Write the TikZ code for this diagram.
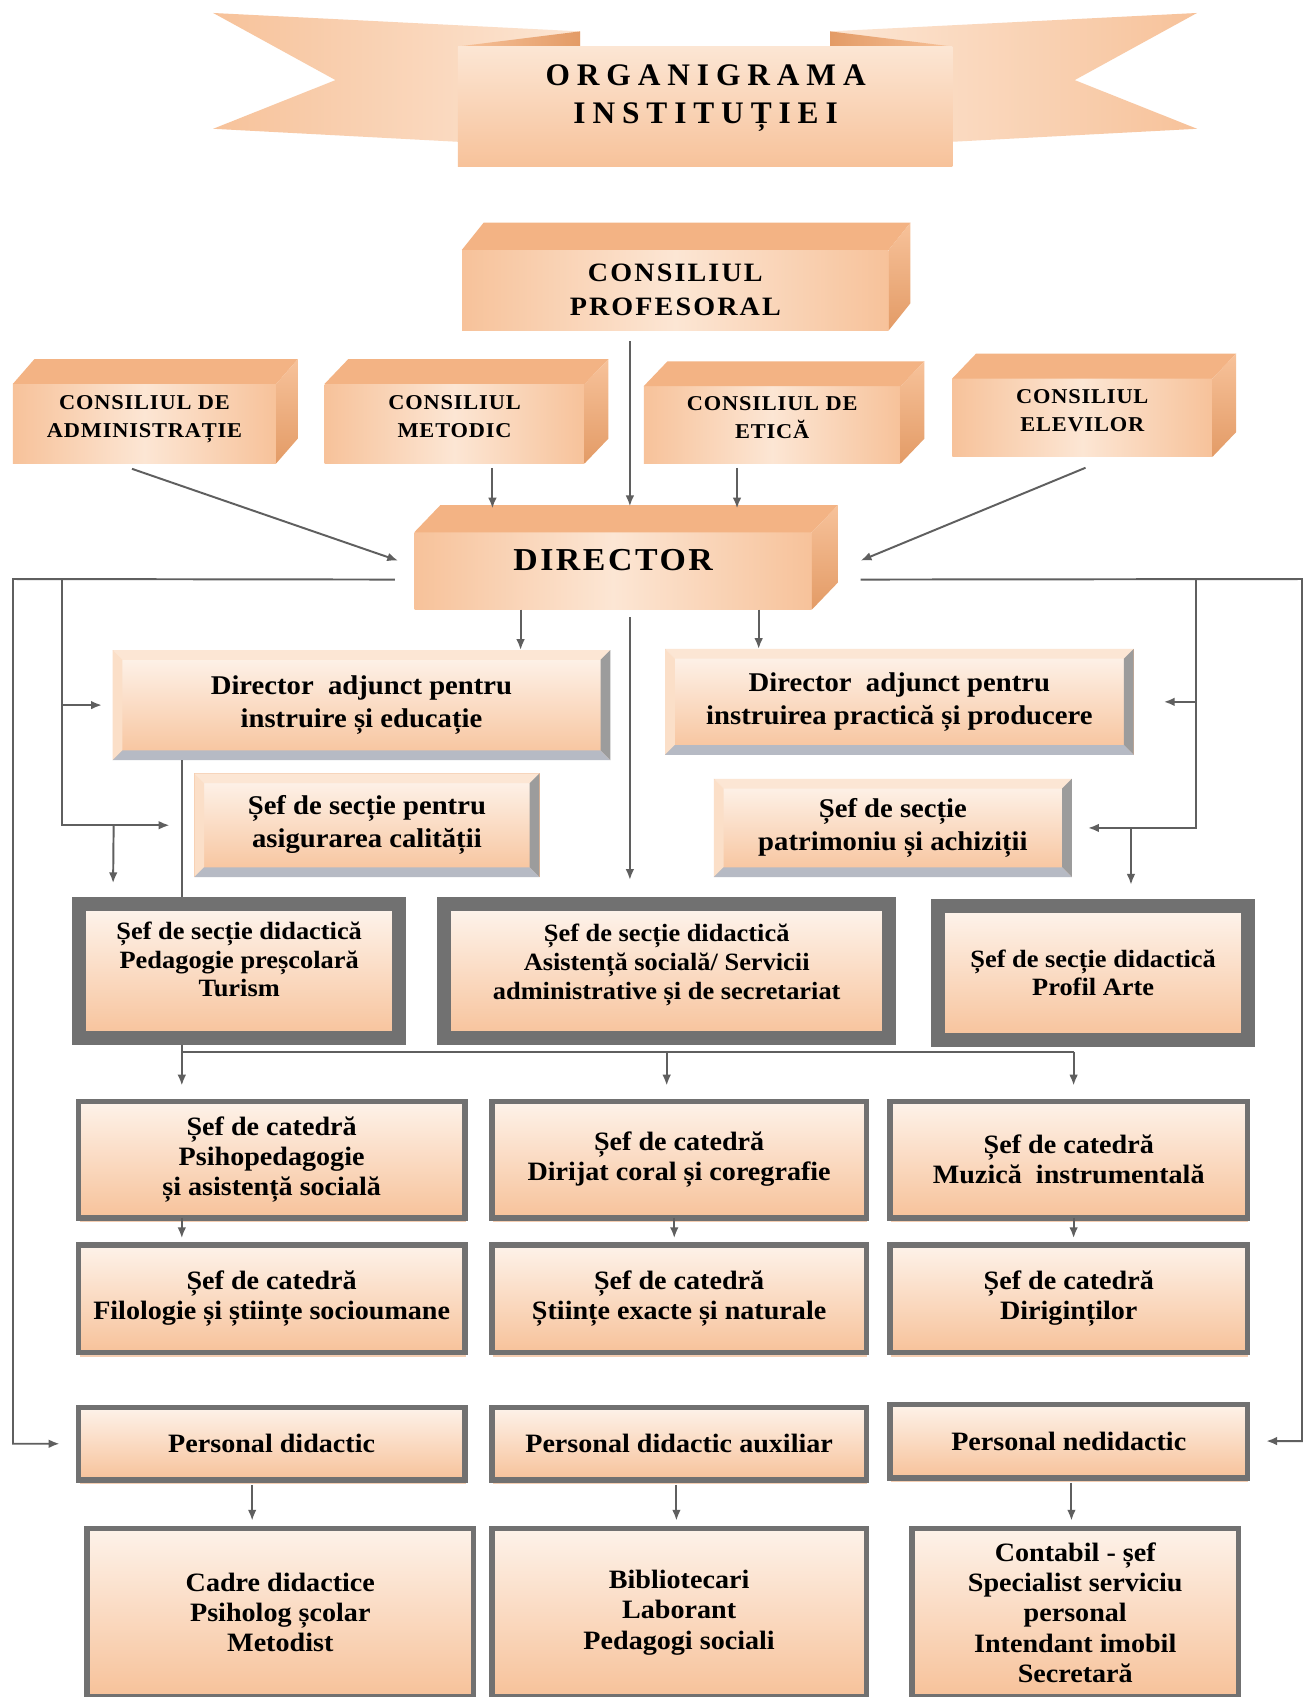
\documentclass[tikz,border=0pt]{standalone}
\usepackage{fontspec}
\setmainfont{Liberation Serif}[FakeStretch=1.06]
\newfontfamily\titlufont[LetterSpace=22]{Liberation Serif}
\newfontfamily\consfont[LetterSpace=8,FakeStretch=1.06]{Liberation Serif}
\newfontfamily\mijfont[LetterSpace=4,FakeStretch=1.06]{Liberation Serif}
\usetikzlibrary{arrows.meta}
\usetikzlibrary{shadows}

\definecolor{piersica}{HTML}{F7C29A}
\definecolor{piersicadeschis}{HTML}{FCE6D4}
\definecolor{piersicasus}{HTML}{F3B384}
\definecolor{piersicalat}{HTML}{E39B66}
\definecolor{piersicaumbra}{HTML}{F0B890}
\definecolor{ramagri}{HTML}{717171}
\definecolor{liniegri}{HTML}{5F5F5F}
\definecolor{bevelgri}{HTML}{9C9C9C}
\definecolor{bevelalb}{HTML}{B6BAC4}

\begin{document}
\begin{tikzpicture}[x=1pt,y=-1pt,
    cub/.style={rectangle,inner sep=0pt,align=center,left color=piersica,right color=piersica,middle color=piersicadeschis},
    placa/.style={rectangle,inner sep=0pt,align=center,draw=piersicaumbra,line width=0.8pt,top color=piersicadeschis!40!white,bottom color=piersica,
        font=\bfseries\fontsize{25}{30.5}\selectfont},
    sectie/.style={rectangle,inner sep=0pt,align=center,draw=ramagri,line width=13pt,top color=piersicadeschis!40!white,bottom color=piersica,
        font=\bfseries\fontsize{23}{26.5}\selectfont},
    catedra/.style={rectangle,inner sep=0pt,align=center,draw=ramagri,line width=5pt,top color=piersicadeschis!50!white,bottom color=piersica,
        drop shadow={shadow xshift=1pt,shadow yshift=-4pt,fill=piersicaumbra,opacity=0.7},
        font=\bfseries\fontsize{24.5}{28}\selectfont},
    linie/.style={draw=liniegri,line width=1.8pt},
    sag/.style={linie,-{Latex[length=10pt,width=8pt]}}]
    \useasboundingbox (0,0) rectangle (1205,1568);
    \fill[white] (0,0) rectangle (1205,1568);

    % banner
    \shade[left color=piersica,right color=piersicadeschis] (197,12) -- (536,29) -- (536,137) -- (197,119) -- (310,74) -- cycle;
    \shade[left color=piersicadeschis,right color=piersica] (1106,12) -- (767,29) -- (767,137) -- (1106,119) -- (993,74) -- cycle;
    \shade[left color=piersica,right color=piersicalat] (423,43) -- (536,29) -- (536,43) -- cycle;
    \shade[left color=piersicalat,right color=piersica] (880,43) -- (767,29) -- (767,43) -- cycle;
    \fill[top color=piersicadeschis,bottom color=piersica] (423,43) rectangle (880,154);
    \node[align=center,font=\titlufont\bfseries\fontsize{29}{35}\selectfont] (titlu) at (652,91) {ORGANIGRAMA\\INSTITUȚIEI};

    % consilii
    \node[cub,minimum width=394pt,minimum height=74pt,font=\consfont\bfseries\fontsize{24.5}{31}\selectfont] (cp) at (624,268) {CONSILIUL\\PROFESORAL};
    \node[cub,minimum width=243pt,minimum height=73pt,text depth=14pt,font=\mijfont\bfseries\fontsize{19.5}{26}\selectfont] (cadm) at (133.5,391.5) {CONSILIUL DE\\ADMINISTRAȚIE};
    \node[cub,minimum width=240pt,minimum height=73pt,text depth=14pt,font=\mijfont\bfseries\fontsize{19.5}{26}\selectfont] (cmet) at (420,391.5) {CONSILIUL\\METODIC};
    \node[cub,minimum width=237pt,minimum height=71pt,text depth=14pt,font=\mijfont\bfseries\fontsize{19.5}{26}\selectfont] (cet) at (713.5,392.5) {CONSILIUL DE\\ETICĂ};
    \node[cub,minimum width=240pt,minimum height=72pt,text depth=14pt,font=\mijfont\bfseries\fontsize{19.5}{26}\selectfont] (celev) at (1000,386) {CONSILIUL\\ELEVILOR};
    \node[cub,minimum width=367pt,minimum height=71pt,text depth=20pt,font=\consfont\bfseries\fontsize{29.5}{36}\selectfont] (dir) at (566.5,527.5) {DIRECTOR};
    \foreach \n/\dx/\dy in {cp/20/25,cadm/20/23,cmet/22/23,cet/22/23,celev/22/23,dir/24/25}{
        \fill[piersicasus] (\n.north west) -- ([shift={(\dx pt,\dy pt)}]\n.north west) -- ([shift={(\dx pt,\dy pt)}]\n.north east) -- (\n.north east) -- cycle;
        \shade[top color=piersica,bottom color=piersicalat] (\n.north east) -- ([shift={(\dx pt,\dy pt)}]\n.north east) -- ([shift={(\dx pt,\dy pt)}]\n.south east) -- (\n.south east) -- cycle;
    }

    % adjuncti si sefi de sectie
    \node[placa,minimum width=459pt,minimum height=101pt] (dai) at (334,651.5) {Director\ \ adjunct pentru\\instruire și educație};
    \node[placa,minimum width=432pt,minimum height=97pt] (dap) at (831,648.5) {Director\ \ adjunct pentru\\instruirea practică și producere};
    \node[placa,minimum width=318pt,minimum height=95pt] (sc) at (339,762.5) {Șef de secție pentru\\asigurarea calității};
    \node[placa,minimum width=330pt,minimum height=90pt] (sp) at (825,765) {Șef de secție\\patrimoniu și achiziții};
    \foreach \n in {dai,dap,sc,sp}{
        \fill[piersicadeschis] (\n.north west) -- (\n.north east) -- ([shift={(-9pt,-9pt)}]\n.north east) -- ([shift={(9pt,-9pt)}]\n.north west) -- cycle;
        \fill[piersicadeschis!80!piersica] (\n.north west) -- (\n.south west) -- ([shift={(9pt,9pt)}]\n.south west) -- ([shift={(9pt,-9pt)}]\n.north west) -- cycle;
        \fill[bevelgri] (\n.north east) -- (\n.south east) -- ([shift={(-9pt,9pt)}]\n.south east) -- ([shift={(-9pt,-9pt)}]\n.north east) -- cycle;
        \fill[bevelalb] (\n.south west) -- (\n.south east) -- ([shift={(-9pt,9pt)}]\n.south east) -- ([shift={(9pt,9pt)}]\n.south west) -- cycle;
    }

    \node[sectie,minimum width=296pt,minimum height=124pt,text depth=22pt] (sd1) at (221,897.5) {Șef de secție didactică\\Pedagogie preșcolară\\Turism};
    \node[sectie,minimum width=411pt,minimum height=124pt,text depth=18pt] (sd2) at (616,897.5) {Șef de secție didactică\\Asistență socială/ Servicii\\administrative și de secretariat};
    \node[sectie,minimum width=287pt,minimum height=124pt] (sd3) at (1010,899) {Șef de secție didactică\\Profil Arte};

    % catedre
    \node[catedra,minimum width=357pt,minimum height=108pt] (c1) at (251,1071.5) {Șef de catedră\\Psihopedagogie\\și asistență socială};
    \node[catedra,minimum width=346pt,minimum height=108pt] (c2) at (627.5,1071.5) {Șef de catedră\\Dirijat coral și coregrafie};
    \node[catedra,minimum width=330pt,minimum height=108pt] (c3) at (987.5,1071.5) {Șef de catedră\\Muzică\ \ instrumentală};
    \node[catedra,minimum width=357pt,minimum height=99pt] (c4) at (251,1200) {Șef de catedră\\Filologie și științe socioumane};
    \node[catedra,minimum width=346pt,minimum height=99pt] (c5) at (627.5,1200) {Șef de catedră\\Științe exacte și naturale};
    \node[catedra,minimum width=330pt,minimum height=99pt] (c6) at (987.5,1200) {Șef de catedră\\Diriginților};

    % personal
    \node[catedra,minimum width=357pt,minimum height=67pt] (p1) at (251,1334) {Personal didactic};
    \node[catedra,minimum width=346pt,minimum height=67pt] (p2) at (627.5,1334) {Personal didactic auxiliar};
    \node[catedra,minimum width=330pt,minimum height=68pt] (p3) at (987.5,1331.5) {Personal nedidactic};
    \node[catedra,minimum width=357pt,minimum height=155pt] (l1) at (259,1490) {Cadre didactice\\Psiholog școlar\\Metodist};
    \node[catedra,minimum width=346pt,minimum height=155pt] (l2) at (627.5,1490) {Bibliotecari\\Laborant\\Pedagogi sociali};
    \node[catedra,minimum width=302pt,minimum height=155pt] (l3) at (993.5,1490) {Contabil - șef\\Specialist serviciu\\personal\\Intendant imobil\\Secretară};

    % legaturi
    \coordinate (tL) at (12,535);
    \coordinate (tL2) at (57,535);
    \coordinate (tR) at (1203,535);
    \coordinate (tR2) at (1105,535);
    \coordinate (kL) at (105,762.5);
    \coordinate (kR) at (1045,765);
    \coordinate (m1) at (168,972);
    \coordinate (m2) at (616,972);
    \coordinate (m3) at (992,972);

    \draw[sag] ([xshift=-42pt,yshift=-10pt]cp.south) -- ([xshift=15.5pt,yshift=24pt]dir.north);
    \draw[sag] ([xshift=35pt,yshift=-4pt]cmet.south) -- ([xshift=-111.5pt,yshift=22pt]dir.north);
    \draw[sag] ([xshift=-32.5pt,yshift=-4pt]cet.south) -- ([xshift=114.5pt,yshift=22pt]dir.north);
    \draw[sag] ([xshift=-11.5pt,yshift=-5pt]cadm.south) -- ([xshift=-15pt,yshift=9.5pt]dir.west);
    \draw[sag] ([xshift=3pt,yshift=-10pt]celev.south) -- ([xshift=45pt,yshift=9.5pt]dir.east);

    \draw[sag] ([xshift=-85.5pt]dir.south) -- ([xshift=147pt]dai.north);
    \draw[sag] ([xshift=134.5pt]dir.south) -- ([xshift=-130pt]dap.north);
    \draw[sag] ([xshift=15.5pt,yshift=-7pt]dir.south) -- ([xshift=-34pt,yshift=16pt]sd2.north);
    \draw[linie] ([xshift=-166pt]dai.south) -- ([xshift=-53pt]sd1.north);

    \draw[sag] ([xshift=-18pt,yshift=-8pt]dir.west) -- (tL) |- ([xshift=-15pt]p1.west);
    \draw[sag] (tL2) |- ([xshift=-10pt]dai.west);
    \draw[sag] (tL2) |- ([xshift=-23pt]sc.west);
    \draw[sag] (kL) -- ([xshift=38pt,yshift=13pt]sd1.north west);
    \draw[sag] ([xshift=45pt,yshift=-8pt]dir.east) -- (tR) |- ([xshift=15pt]p3.east);
    \draw[sag] (tR2) |- ([xshift=28pt]dap.east);
    \draw[sag] (tR2) |- ([xshift=15pt]sp.east);
    \draw[sag] (kR) -- ([xshift=-115pt,yshift=13pt]sd3.north east);

    \draw[linie] (m1) -- (m3);
    \draw[sag] ([xshift=-53pt]sd1.south) -- ([xshift=-83pt,yshift=12pt]c1.north);
    \draw[sag] (m2) -- ([xshift=-11.5pt,yshift=12pt]c2.north);
    \draw[sag] (m3) -- ([xshift=4.5pt,yshift=12pt]c3.north);

    \draw[sag] ([xshift=-83pt,yshift=3pt]c1.south) -- ([xshift=-83pt,yshift=4pt]c4.north);
    \draw[sag] ([xshift=-4.5pt,yshift=3pt]c2.south) -- ([xshift=-4.5pt,yshift=4pt]c5.north);
    \draw[sag] ([xshift=4.5pt,yshift=3pt]c3.south) -- ([xshift=4.5pt,yshift=4pt]c6.north);

    \draw[sag] ([xshift=-18pt,yshift=-2pt]p1.south) -- ([xshift=-26pt,yshift=5pt]l1.north);
    \draw[sag] ([xshift=-2.5pt,yshift=-2pt]p2.south) -- ([xshift=-2.5pt,yshift=5pt]l2.north);
    \draw[sag] ([xshift=2.5pt,yshift=-2pt]p3.south) -- ([xshift=-3.5pt,yshift=5pt]l3.north);
\end{tikzpicture}
\end{document}
